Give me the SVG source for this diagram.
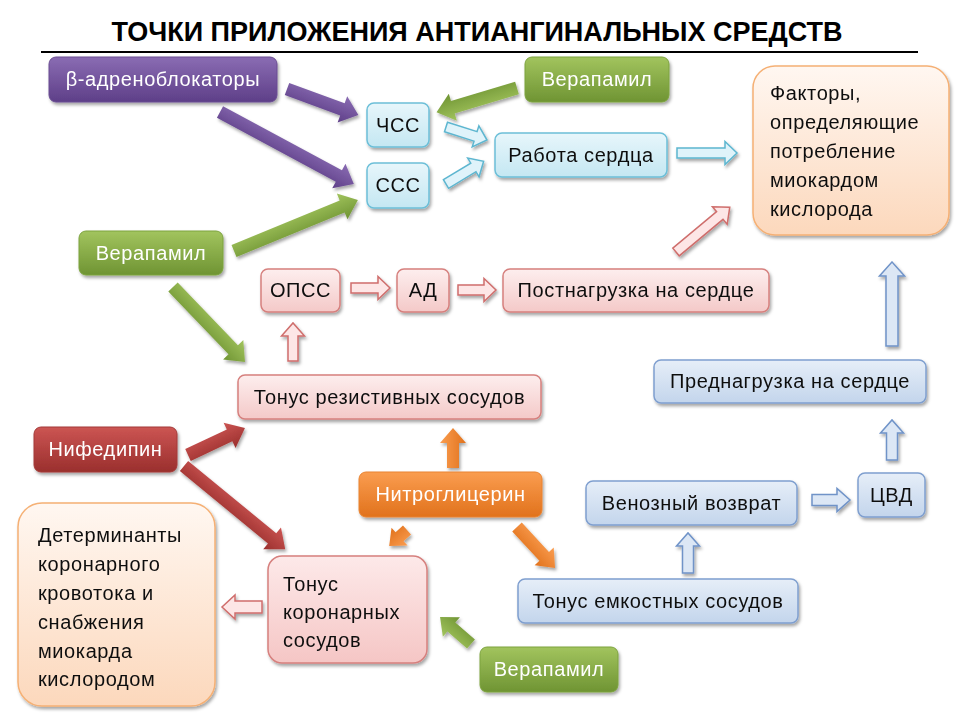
<svg xmlns="http://www.w3.org/2000/svg" width="960" height="720" viewBox="0 0 960 720">
<defs>
  <filter id="sh" x="-20%" y="-20%" width="140%" height="150%">
    <feDropShadow dx="1.5" dy="2.5" stdDeviation="1.5" flood-color="#000" flood-opacity="0.35"/>
  </filter>
  <linearGradient id="gPurple" x1="0" y1="0" x2="0" y2="1"><stop offset="0" stop-color="#8a6cb3"/><stop offset="1" stop-color="#5e3f88"/></linearGradient>
  <linearGradient id="gGreen" x1="0" y1="0" x2="0" y2="1"><stop offset="0" stop-color="#a2c45e"/><stop offset="1" stop-color="#6f9433"/></linearGradient>
  <linearGradient id="gRed" x1="0" y1="0" x2="0" y2="1"><stop offset="0" stop-color="#cc5553"/><stop offset="1" stop-color="#9a2f2d"/></linearGradient>
  <linearGradient id="gOrange" x1="0" y1="0" x2="0" y2="1"><stop offset="0" stop-color="#fa9d50"/><stop offset="1" stop-color="#e1721c"/></linearGradient>
  <linearGradient id="gCyan" x1="0" y1="0" x2="0" y2="1"><stop offset="0" stop-color="#e7f6fb"/><stop offset="1" stop-color="#c4e7f2"/></linearGradient>
  <linearGradient id="gPink" x1="0" y1="0" x2="0" y2="1"><stop offset="0" stop-color="#fdeeee"/><stop offset="1" stop-color="#f4c9c8"/></linearGradient>
  <linearGradient id="gBlue" x1="0" y1="0" x2="0" y2="1"><stop offset="0" stop-color="#e6eef8"/><stop offset="1" stop-color="#c3d5ec"/></linearGradient>
  <linearGradient id="gPeach" x1="0" y1="0" x2="0" y2="1"><stop offset="0" stop-color="#fff7f1"/><stop offset="1" stop-color="#fcd8bc"/></linearGradient>
  <linearGradient id="gPink2" x1="0" y1="0" x2="0" y2="1"><stop offset="0" stop-color="#fde9e9"/><stop offset="1" stop-color="#f5c6c5"/></linearGradient>
</defs>
<style>
  text { font-family: "Liberation Sans", Arial, sans-serif; }
  .t { font-size: 20px; letter-spacing: 0.6px; fill: #111; text-anchor: middle; }
  .w { font-size: 20px; letter-spacing: 0.6px; fill: #fff; text-anchor: middle; }
  .l { font-size: 20px; letter-spacing: 0.6px; fill: #111; }
  .purple { fill: url(#gPurple); stroke: #6a4d92; stroke-width: 1; }
  .green { fill: url(#gGreen); stroke: #7da33f; stroke-width: 1; }
  .red { fill: url(#gRed); stroke: #a33a38; stroke-width: 1; }
  .orange { fill: url(#gOrange); stroke: #e98330; stroke-width: 1; }
  .cyan { fill: url(#gCyan); stroke: #6cbfd8; stroke-width: 1.5; }
  .pink { fill: url(#gPink); stroke: #d6807e; stroke-width: 1.5; }
  .blue { fill: url(#gBlue); stroke: #7f9fcf; stroke-width: 1.5; }
  .peach { fill: url(#gPeach); stroke: #f5b074; stroke-width: 1.5; }
  .pink2 { fill: url(#gPink2); stroke: #d6807e; stroke-width: 1.5; }
  .ap { fill: url(#gPurple); }
  .ag { fill: url(#gGreen); }
  .ar { fill: url(#gRed); }
  .ao { fill: url(#gOrange); }
  .oc { fill: #dff3fa; stroke: #5db6d0; stroke-width: 1.5; }
  .op { fill: #fde6e6; stroke: #cf6e6c; stroke-width: 1.5; }
  .ob { fill: #dce7f5; stroke: #6f93c8; stroke-width: 1.5; }
</style>
<rect width="960" height="720" fill="#fff"/>
<g id="title">
  <text x="477" y="41" text-anchor="middle" font-size="27" font-weight="bold" fill="#000">ТОЧКИ ПРИЛОЖЕНИЯ АНТИАНГИНАЛЬНЫХ СРЕДСТВ</text>
  <line x1="41" y1="52" x2="918" y2="52" stroke="#000" stroke-width="2"/>
</g>
<g id="connectors" filter="url(#sh)">
  <path class="ap" transform="translate(287,89) rotate(20.1)" d="M0,-6.5 L59,-6.5 L59,-14 L76,0 L59,14 L59,6.5 L0,6.5 Z"/>
  <path class="ap" transform="translate(220,112) rotate(28.3)" d="M0,-6.5 L135,-6.5 L135,-14 L152,0 L135,14 L135,6.5 L0,6.5 Z"/>
  <path class="ag" transform="translate(517,88) rotate(163.3)" d="M0,-6.5 L67,-6.5 L67,-14 L84,0 L67,14 L67,6.5 L0,6.5 Z"/>
  <path class="ag" transform="translate(234,251) rotate(-22.4)" d="M0,-6.5 L117,-6.5 L117,-14 L134,0 L117,14 L117,6.5 L0,6.5 Z"/>
  <path class="ag" transform="translate(173,287) rotate(46.2)" d="M0,-6.5 L87,-6.5 L87,-14 L104,0 L87,14 L87,6.5 L0,6.5 Z"/>
  <path class="ar" transform="translate(188,455) rotate(-25.3)" d="M0,-6.5 L46,-6.5 L46,-14 L63,0 L46,14 L46,6.5 L0,6.5 Z"/>
  <path class="ar" transform="translate(184,466) rotate(39.4)" d="M0,-6.5 L114,-6.5 L114,-14 L131,0 L114,14 L114,6.5 L0,6.5 Z"/>
  <path class="ao" transform="translate(453,468) rotate(-90)" d="M0,-6 L25,-6 L25,-13 L40,0 L25,13 L25,6 L0,6 Z"/>
  <path class="ao" transform="translate(407,530) rotate(138)" d="M0,-6 L10,-6 L10,-12 L24,0 L10,12 L10,6 L0,6 Z"/>
  <path class="ao" transform="translate(517,527) rotate(47.2)" d="M0,-6.5 L40,-6.5 L40,-13 L56,0 L40,13 L40,6.5 L0,6.5 Z"/>
  <path class="ag" transform="translate(471,644) rotate(-139)" d="M0,-6 L26,-6 L26,-13 L41,0 L26,13 L26,6 L0,6 Z"/>

  <path class="oc" transform="translate(446,127) rotate(17.6)" d="M0,-5 L31,-5 L31,-11 L43,0 L31,11 L31,5 L0,5 Z"/>
  <path class="oc" transform="translate(446,184) rotate(-31.2)" d="M0,-5 L32,-5 L32,-11 L44,0 L32,11 L32,5 L0,5 Z"/>
  <path class="oc" transform="translate(677,153)" d="M0,-5 L48,-5 L48,-11.5 L60,0 L48,11.5 L48,5 L0,5 Z"/>
  <path class="op" transform="translate(351,288)" d="M0,-5 L27,-5 L27,-11.5 L39,0 L27,11.5 L27,5 L0,5 Z"/>
  <path class="op" transform="translate(458,290)" d="M0,-5 L26,-5 L26,-11.5 L38,0 L26,11.5 L26,5 L0,5 Z"/>
  <path class="op" transform="translate(676,252) rotate(-39.8)" d="M0,-5 L57,-5 L57,-11.5 L70,0 L57,11.5 L57,5 L0,5 Z"/>
  <path class="op" transform="translate(293,361) rotate(-90)" d="M0,-5 L25,-5 L25,-11.5 L38,0 L25,11.5 L25,5 L0,5 Z"/>
  <path class="op" transform="translate(262,607) rotate(180)" d="M0,-6 L27,-6 L27,-12 L40,0 L27,12 L27,6 L0,6 Z"/>
  <path class="ob" transform="translate(688,573) rotate(-90)" d="M0,-5.5 L27,-5.5 L27,-11.5 L40,0 L27,11.5 L27,5.5 L0,5.5 Z"/>
  <path class="ob" transform="translate(812,500)" d="M0,-5.5 L25,-5.5 L25,-11.5 L38,0 L25,11.5 L25,5.5 L0,5.5 Z"/>
  <path class="ob" transform="translate(892,460) rotate(-90)" d="M0,-5.5 L27,-5.5 L27,-11.5 L40,0 L27,11.5 L27,5.5 L0,5.5 Z"/>
  <path class="ob" transform="translate(892,346) rotate(-90)" d="M0,-6 L70,-6 L70,-12.5 L84,0 L70,12.5 L70,6 L0,6 Z"/>
</g>
<g id="beta" filter="url(#sh)"><rect class="purple" x="49" y="57" width="228" height="45" rx="7"/><text class="w" x="163" y="86">β-адреноблокаторы</text></g>
<g id="chss" filter="url(#sh)"><rect class="cyan" x="367" y="103" width="62" height="44" rx="7"/><text class="t" x="398" y="132">ЧСС</text></g>
<g id="sss" filter="url(#sh)"><rect class="cyan" x="367" y="163" width="62" height="45" rx="7"/><text class="t" x="398" y="192">ССС</text></g>
<g id="verapamil1" filter="url(#sh)"><rect class="green" x="525" y="57" width="144" height="45" rx="7"/><text class="w" x="597" y="86">Верапамил</text></g>
<g id="rabota" filter="url(#sh)"><rect class="cyan" x="495" y="133" width="172" height="44" rx="7"/><text class="t" x="581" y="162">Работа сердца</text></g>
<g id="faktory" filter="url(#sh)"><rect class="peach" x="753" y="66" width="196" height="169" rx="22"/>
  <text class="l" x="770" y="100">Факторы,</text>
  <text class="l" x="770" y="129">определяющие</text>
  <text class="l" x="770" y="158">потребление</text>
  <text class="l" x="770" y="187">миокардом</text>
  <text class="l" x="770" y="216">кислорода</text>
</g>
<g id="verapamil2" filter="url(#sh)"><rect class="green" x="79" y="231" width="144" height="44" rx="7"/><text class="w" x="151" y="260">Верапамил</text></g>
<g id="opss" filter="url(#sh)"><rect class="pink" x="261" y="269" width="79" height="43" rx="7"/><text class="t" x="300.5" y="297">ОПСС</text></g>
<g id="ad" filter="url(#sh)"><rect class="pink" x="397" y="269" width="52" height="43" rx="7"/><text class="t" x="423" y="297">АД</text></g>
<g id="postnagruzka" filter="url(#sh)"><rect class="pink" x="503" y="269" width="266" height="43" rx="7"/><text class="t" x="636" y="297">Постнагрузка на сердце</text></g>
<g id="tonus_rez" filter="url(#sh)"><rect class="pink" x="238" y="375" width="303" height="44" rx="7"/><text class="t" x="389.5" y="404">Тонус резистивных сосудов</text></g>
<g id="prednagruzka" filter="url(#sh)"><rect class="blue" x="654" y="360" width="272" height="43" rx="7"/><text class="t" x="790" y="388">Преднагрузка на сердце</text></g>
<g id="nifedipin" filter="url(#sh)"><rect class="red" x="34" y="427" width="143" height="45" rx="7"/><text class="w" x="105.5" y="456">Нифедипин</text></g>
<g id="nitro" filter="url(#sh)"><rect class="orange" x="359" y="472" width="183" height="45" rx="7"/><text class="w" x="450.5" y="501">Нитроглицерин</text></g>
<g id="determinanty" filter="url(#sh)"><rect class="peach" x="18" y="503" width="197" height="203" rx="24"/>
  <text class="l" x="38" y="542">Детерминанты</text>
  <text class="l" x="38" y="571">коронарного</text>
  <text class="l" x="38" y="600">кровотока и</text>
  <text class="l" x="38" y="629">снабжения</text>
  <text class="l" x="38" y="658">миокарда</text>
  <text class="l" x="38" y="686">кислородом</text>
</g>
<g id="tonus_kor" filter="url(#sh)"><rect class="pink2" x="268" y="556" width="159" height="107" rx="14"/>
  <text class="l" x="283" y="591">Тонус</text>
  <text class="l" x="283" y="619">коронарных</text>
  <text class="l" x="283" y="647">сосудов</text>
</g>
<g id="venozny" filter="url(#sh)"><rect class="blue" x="586" y="481" width="211" height="44" rx="7"/><text class="t" x="691.5" y="510">Венозный возврат</text></g>
<g id="cvd" filter="url(#sh)"><rect class="blue" x="858" y="473" width="67" height="44" rx="7"/><text class="t" x="891.5" y="502">ЦВД</text></g>
<g id="tonus_emk" filter="url(#sh)"><rect class="blue" x="518" y="579" width="280" height="44" rx="7"/><text class="t" x="658" y="608">Тонус емкостных сосудов</text></g>
<g id="verapamil3" filter="url(#sh)"><rect class="green" x="480" y="647" width="138" height="45" rx="7"/><text class="w" x="549" y="676">Верапамил</text></g>
</svg>
